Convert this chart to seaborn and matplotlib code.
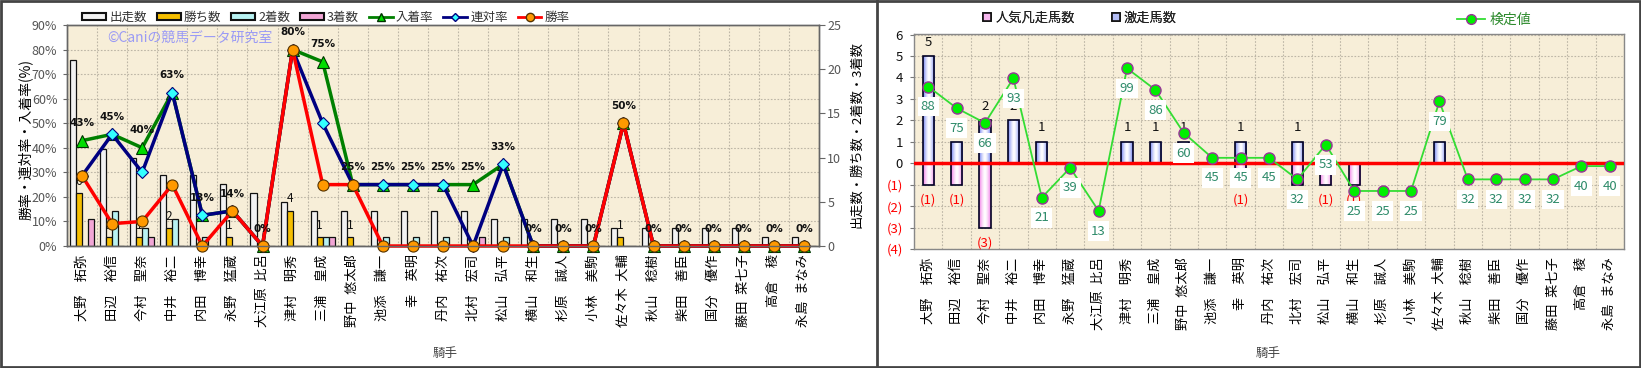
import numpy as np
import pandas as pd
import matplotlib
matplotlib.use("Agg")
import matplotlib.pyplot as plt
import seaborn as sns
from matplotlib.patches import Patch, Rectangle
from matplotlib.lines import Line2D
from matplotlib.colors import to_rgb

plt.rcParams['font.family'] = ['Noto Sans CJK JP', 'DejaVu Sans']

# ---------------- data ----------------
S = '\u2002'
jockeys = ['大野　拓弥', '田辺　裕信', '今村　聖奈', '中井　裕二', '内田　博幸', '永野　猛蔵',
           '大江原' + S + '比呂', '津村　明秀', '三浦　皇成', '野中' + S + '悠太郎', '池添　謙一', '幸　英明',
           '丹内　祐次', '北村　宏司', '松山　弘平', '横山　和生', '杉原　誠人', '小林　美駒',
           '佐々木' + S + '大輔', '秋山　稔樹', '柴田　善臣', '国分　優作', '藤田' + S + '菜七子', '高倉　稜',
           '永島' + S + 'まなみ']
starts  = [21, 11, 10, 8, 8, 7, 6, 5, 4, 4, 4, 4, 4, 4, 3, 3, 3, 3, 2, 2, 2, 2, 2, 1, 1]
wins    = [6, 1, 1, 2, 0, 1, 0, 4, 1, 1, 0, 0, 0, 0, 0, 0, 0, 0, 1, 0, 0, 0, 0, 0, 0]
seconds = [0, 4, 2, 3, 1, 0, 0, 0, 1, 0, 1, 1, 1, 0, 1, 0, 0, 0, 0, 0, 0, 0, 0, 0, 0]
thirds  = [3, 0, 1, 0, 0, 0, 0, 0, 1, 0, 0, 0, 0, 1, 0, 0, 0, 0, 0, 0, 0, 0, 0, 0, 0]
win_rate    = [28.6, 9.1, 10.0, 25.0, 0, 14.3, 0, 80, 25, 25, 0, 0, 0, 0, 0, 0, 0, 0, 50, 0, 0, 0, 0, 0, 0]
rentai_rate = [28.6, 45.5, 30.0, 62.5, 12.5, 14.3, 0, 80, 50, 25, 25, 25, 25, 0, 33.3, 0, 0, 0, 50, 0, 0, 0, 0, 0, 0]
place_rate  = [42.9, 45.5, 40.0, 62.5, 12.5, 14.3, 0, 80, 75, 25, 25, 25, 25, 25, 33.3, 0, 0, 0, 50, 0, 0, 0, 0, 0, 0]
place_labels = ['43%', '45%', '40%', '63%', '13%', '14%', '0%', '80%', '75%', '25%', '25%', '25%', '25%',
                '25%', '33%', '0%', '0%', '0%', '50%', '0%', '0%', '0%', '0%', '0%', '0%']

gekiso = [5, 1, 2, 2, 1, 0, 0, 1, 1, 1, 0, 1, 0, 1, 0, 0, 0, 0, 1, 0, 0, 0, 0, 0, 0]
bonso  = [1, 1, 3, 0, 0, 0, 0, 0, 0, 0, 0, 1, 0, 1, 1, 1, 0, 0, 0, 0, 0, 0, 0, 0, 0]
kentei = [88, 75, 66, 93, 21, 39, 13, 99, 86, 60, 45, 45, 45, 32, 53, 25, 25, 25, 79, 32, 32, 32, 32, 40, 40]

bar_keys = ['出走数', '勝ち数', '2着数', '3着数']
bar_colors = {'出走数': '#F2F2F2', '勝ち数': '#F5BE00', '2着数': '#B8F2F2', '3着数': '#F2A6D6'}

W, H = 1641, 368
fig = plt.figure(figsize=(W / 100, H / 100), dpi=100)
fig.patch.set_facecolor('white')
BG = '#F7EED8'
GRID = dict(color='#BDB6A6', linestyle=(0, (1.5, 1.5)), linewidth=0.8)
n = len(jockeys)
xs = np.arange(n)


def gradient_bars(ax, edge_rgb):
    """Fill each existing bar with a horizontal edge->white->edge gradient."""
    for p in list(ax.patches):
        h = p.get_height()
        if abs(h) < 1e-9:
            continue
        x0, y0 = p.get_x(), p.get_y()
        w = p.get_width()
        t = np.linspace(-1, 1, 64)
        k = np.abs(t) ** 1.6
        c0 = np.array(edge_rgb)
        img = (1 - k)[:, None] * np.array([1, 1, 1]) + k[:, None] * c0
        img = img[None, :, :]
        im = ax.imshow(img, extent=(x0, x0 + w, min(y0, y0 + h), max(y0, y0 + h)), aspect='auto',
                       zorder=p.get_zorder(), interpolation='bilinear')
        im.set_clip_path(p)
        p.set_facecolor('none')
        p.set_zorder(p.get_zorder() + 0.01)


# ================= LEFT CHART =================
axb = fig.add_axes([67 / W, (H - 246) / H, 752 / W, 221 / H])
axb.set_facecolor(BG)
df = pd.DataFrame({
    '騎手': jockeys * 4,
    '項目': sum([[k] * n for k in bar_keys], []),
    '値': starts + wins + seconds + thirds,
})
sns.barplot(data=df, x='騎手', y='値', hue='項目', hue_order=bar_keys, palette=bar_colors,
            width=0.8, saturation=1, edgecolor='#111111', linewidth=0.9, errorbar=None,
            legend=False, ax=axb, zorder=2)
axb.set_ylim(0, 25)
axb.set_xlim(-0.5, n - 0.5)
ax2 = axb.twinx()
axb.yaxis.tick_right()
axb.yaxis.set_label_position('right')
ax2.yaxis.tick_left()
ax2.yaxis.set_label_position('left')
axb.set_yticks(range(0, 26, 5))
axb.tick_params(axis='y', which='major', length=4, pad=2, labelsize=9, labelcolor='#555555', color='#666666')
axb.set_yticks([k * 25 / 9 for k in range(1, 9)], minor=True)
axb.set_xticks(np.arange(-0.5, n, 1), minor=True)
axb.tick_params(which='minor', length=0)
axb.grid(False)
axb.grid(which='minor', **GRID)
axb.set_axisbelow(True)
axb.set_xticks(xs)
axb.set_xticklabels(jockeys, rotation=90, fontsize=9.5)
axb.tick_params(axis='x', which='major', length=0, pad=6)
axb.set_xlabel('')
axb.set_ylabel('')

for i, w in enumerate(wins):
    if w > 0:
        axb.annotate(str(w), (i - 0.1, w), xytext=(0, 8.5), textcoords='offset points',
                     ha='center', va='center', fontsize=8.5, color='#111111', zorder=3)

ax2.set_ylim(0, 90)
sns.lineplot(x=xs, y=place_rate, ax=ax2, color='#008000', linewidth=2.5, marker='^', markersize=9,
             markerfacecolor='#00DD00', markeredgecolor='#003300', markeredgewidth=0.8, clip_on=False)
sns.lineplot(x=xs, y=rentai_rate, ax=ax2, color='#000080', linewidth=2.5, marker='D', markersize=6.5,
             markerfacecolor='#33FFFF', markeredgecolor='#000080', markeredgewidth=0.8, clip_on=False)
sns.lineplot(x=xs, y=win_rate, ax=ax2, color='#FF0000', linewidth=2.5, marker='o', markersize=8,
             markerfacecolor='#FF9900', markeredgecolor='#553300', markeredgewidth=0.8, clip_on=False)
for i, (v, lab) in enumerate(zip(place_rate, place_labels)):
    ax2.annotate(lab, (i, v), xytext=(0, 12.5), textcoords='offset points', ha='center', va='center',
                 fontsize=7.5, fontweight='bold', color='#111111', family=['DejaVu Sans'])
ax2.set_yticks(range(0, 91, 10))
ax2.set_yticklabels([f'{v}%' for v in range(0, 91, 10)])
ax2.tick_params(axis='y', length=3, pad=4, labelsize=9, labelcolor='#555555', color='#666666')
ax2.set_xlim(-0.5, n - 0.5)
ax2.set_ylabel('')
ax2.text(40 / 752, (246 - 38) / 221, '©Caniの競馬データ研究室', transform=ax2.transAxes,
         fontsize=10, color='#9A9AF5', ha='left', va='center')
for ax in (axb, ax2):
    for s in ax.spines.values():
        s.set_color('#666666')
        s.set_linewidth(1.0)

fig.text(25 / W, 1 - 140 / H, '勝率・連対率・入着率(%)', rotation=90, ha='center', va='center', fontsize=10)
fig.text(857 / W, 1 - 135 / H, '出走数・勝ち数・2着数・3着数', rotation=90, ha='center', va='center', fontsize=9.5)
fig.text(445 / W, 1 - 354 / H, '騎手', ha='center', va='center', fontsize=9, color='#444444')

handles = [Patch(facecolor=bar_colors[k], edgecolor='#111111', linewidth=1.5) for k in bar_keys]
handles += [
    Line2D([], [], color='#008000', lw=2, marker='^', markersize=6, markerfacecolor='#00DD00', markeredgecolor='#003300'),
    Line2D([], [], color='#000080', lw=2, marker='D', markersize=4.5, markerfacecolor='#33FFFF', markeredgecolor='#000080'),
    Line2D([], [], color='#FF0000', lw=2, marker='o', markersize=6, markerfacecolor='#FF9900', markeredgecolor='#553300'),
]
fig.legend(handles, bar_keys + ['入着率', '連対率', '勝率'], loc='center', bbox_to_anchor=(326 / W, 1 - 17 / H),
           ncol=7, frameon=False, fontsize=9, handlelength=1.9, handleheight=0.5, columnspacing=0.8,
           handletextpad=0.25, borderpad=0, labelcolor='#333333')

# ================= RIGHT CHART =================
axr = fig.add_axes([914 / W, (H - 249) / H, 710 / W, 215.5 / H])
axr.set_facecolor(BG)
sns.barplot(x=jockeys, y=gekiso, color='#B4BEF6', width=0.4, saturation=1, edgecolor='#000022',
            linewidth=1.2, errorbar=None, ax=axr, zorder=2)
n_blue = len(axr.patches)
sns.barplot(x=jockeys, y=[-b for b in bonso], color='#F6B6EE', width=0.4, saturation=1, edgecolor='#000022',
            linewidth=1.2, errorbar=None, ax=axr, zorder=2)
all_p = list(axr.patches)
for j, p in enumerate(all_p):
    h = p.get_height()
    if abs(h) < 1e-9:
        continue
    x0, y0, w = p.get_x(), p.get_y(), p.get_width()
    edge = to_rgb('#6F80F0') if j < n_blue else to_rgb('#F07AE6')
    t = np.linspace(-1, 1, 64)
    k = np.abs(t) ** 1.5
    img = ((1 - k)[:, None] * np.ones(3) + k[:, None] * np.array(edge))[None, :, :]
    im = axr.imshow(img, extent=(x0, x0 + w, min(y0, y0 + h), max(y0, y0 + h)), aspect='auto',
                    zorder=2, interpolation='bilinear')
    im.set_clip_path(p)
    p.set_facecolor('none')
    p.set_zorder(2.1)
axr.axhline(0, color='#FF0000', lw=2.5, zorder=3)
axr.set_ylim(-4, 6.05)
axr.set_xlim(-0.5, n - 0.5)
axr.set_yticks(range(-4, 7))
axr.set_yticklabels([f'({-v})' if v < 0 else str(v) for v in range(-4, 7)])
for t_, v in zip(axr.get_yticklabels(), range(-4, 7)):
    t_.set_color('#FF0000' if v < 0 else '#111111')
axr.tick_params(axis='y', length=3, pad=5, labelsize=9.5, color='#777777')
axr.set_xticks(np.arange(-0.5, n, 1), minor=True)
axr.tick_params(which='minor', length=0)
axr.grid(False)
axr.grid(which='minor', axis='x', **GRID)
axr.grid(which='major', axis='y', **GRID)
axr.set_axisbelow(True)
axr.set_xticks(xs)
axr.set_xticklabels(jockeys, rotation=90, fontsize=9.5)
axr.tick_params(axis='x', which='major', length=0, pad=6)
axr.set_xlabel('')
axr.set_ylabel('')
for s in axr.spines.values():
    s.set_color('#888888')
    s.set_linewidth(1.0)
for i, g in enumerate(gekiso):
    if g > 0:
        axr.annotate(str(g), (i, g), xytext=(0, 10), textcoords='offset points', ha='center', va='center',
                     fontsize=9.5, color='#111111', zorder=4)
for i, b in enumerate(bonso):
    if b > 0:
        axr.annotate(f'({b})', (i, -b), xytext=(0, -11), textcoords='offset points', ha='center', va='center',
                     fontsize=9.5, color='#FF0000', zorder=4)

axr2 = axr.twinx()
axr2.set_ylim(-10, 120)
sns.lineplot(x=xs, y=kentei, ax=axr2, color='#33DD33', linewidth=1.3, marker='o', markersize=8,
             markerfacecolor='#00EE00', markeredgecolor='#993399', markeredgewidth=1.0, clip_on=False)
for i, v in enumerate(kentei):
    axr2.annotate(str(v), (i, v), xytext=(0, -14.5), textcoords='offset points', ha='center', va='center',
                  fontsize=9.5, color='#2E8B6A',
                  bbox=dict(boxstyle='square,pad=0.25', facecolor='white', edgecolor='none'))
axr2.set_yticks([])
axr2.set_ylabel('')
for s in axr2.spines.values():
    s.set_visible(False)

fig.text(1268 / W, 1 - 354 / H, '騎手', ha='center', va='center', fontsize=9, color='#444444')

lg1 = fig.legend([Patch(facecolor='#F6B6EE', edgecolor='#111111', linewidth=1.2),
                  Patch(facecolor='#B4BEF6', edgecolor='#111111', linewidth=1.2)],
                 ['人気凡走馬数', '激走馬数'], loc='center', bbox_to_anchor=(1080 / W, 1 - 18 / H), ncol=2,
                 frameon=False, fontsize=9.5, handlelength=0.6, handleheight=0.6, columnspacing=2.8,
                 handletextpad=0.3, borderpad=0, labelcolor='#222222')
fig.add_artist(lg1)
fig.legend([Line2D([], [], color='#33DD33', lw=1.3, marker='o', markersize=7, markerfacecolor='#00EE00',
                   markeredgecolor='#993399')],
           ['検定値'], loc='center', bbox_to_anchor=(1494 / W, 1 - 20 / H), frameon=False, fontsize=10,
           handlelength=2.0, handletextpad=0.3, borderpad=0, labelcolor='#2E8B2E')

fig.add_artist(Rectangle((0.0008, 0.002), 0.9984, 0.996, transform=fig.transFigure, fill=False,
                         edgecolor='#444444', linewidth=2))
fig.add_artist(Line2D([877 / W, 877 / W], [0, 1], transform=fig.transFigure, color='#444444', linewidth=2))

fig.savefig('out.png', dpi=100)
